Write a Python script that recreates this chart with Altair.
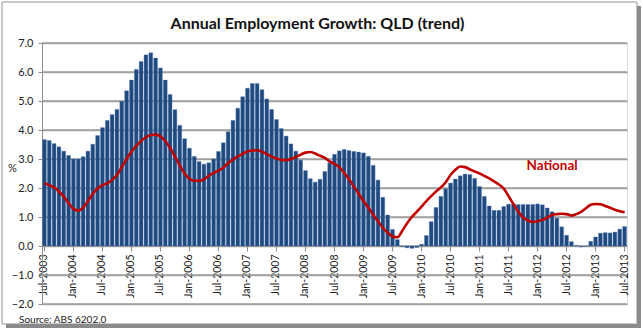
import altair as alt
import pandas as pd

MONTHS = ["Jan", "Feb", "Mar", "Apr", "May", "Jun", "Jul", "Aug", "Sep", "Oct", "Nov", "Dec"]
# Monthly categories Jul-2003 .. Jul-2013
months = []
for y in range(2003, 2014):
    for m in range(12):
        if (y == 2003 and m < 6) or (y == 2013 and m > 6):
            continue
        months.append(f"{MONTHS[m]}-{y}")

qld = [
    3.67, 3.64, 3.53, 3.42, 3.27, 3.12, 3.00, 3.00, 3.08, 3.27, 3.51, 3.81,
    4.08, 4.33, 4.53, 4.71, 4.99, 5.35, 5.72, 6.09, 6.36, 6.59, 6.66, 6.48,
    6.14, 5.72, 5.22, 4.70, 4.16, 3.70, 3.37, 3.09, 2.91, 2.82, 2.87, 3.00,
    3.26, 3.56, 3.94, 4.33, 4.75, 5.15, 5.44, 5.60, 5.60, 5.39, 5.07, 4.71,
    4.36, 4.05, 3.79, 3.52, 3.27, 2.96, 2.60, 2.32, 2.20, 2.30, 2.57, 2.87,
    3.16, 3.28, 3.33, 3.29, 3.26, 3.24, 3.21, 3.09, 2.78, 2.27, 1.68, 1.07,
    0.57, 0.22, -0.02, -0.06, -0.08, -0.05, 0.06, 0.36, 0.84, 1.33, 1.71, 1.97,
    2.17, 2.31, 2.42, 2.48, 2.46, 2.33, 2.05, 1.71, 1.38, 1.23, 1.23, 1.36,
    1.44, 1.45, 1.43, 1.43, 1.43, 1.43, 1.45, 1.42, 1.31, 1.18, 0.96, 0.66,
    0.37, 0.15, 0.02, -0.03, -0.01, 0.16, 0.31, 0.44, 0.46, 0.45, 0.48, 0.58,
    0.67,
]

national = [
    2.17, 2.10, 2.02, 1.88, 1.70, 1.48, 1.28, 1.22, 1.32, 1.55, 1.80, 1.98,
    2.10, 2.16, 2.28, 2.45, 2.72, 3.00, 3.25, 3.45, 3.62, 3.75, 3.83, 3.84,
    3.78, 3.62, 3.38, 3.08, 2.78, 2.50, 2.32, 2.25, 2.25, 2.30, 2.42, 2.52,
    2.60, 2.70, 2.86, 2.98, 3.09, 3.18, 3.26, 3.29, 3.30, 3.25, 3.17, 3.08,
    3.02, 2.97, 2.96, 3.00, 3.07, 3.15, 3.22, 3.24, 3.19, 3.11, 3.04, 2.92,
    2.83, 2.72, 2.52, 2.30, 2.05, 1.80, 1.55, 1.32, 1.08, 0.85, 0.63, 0.46,
    0.33, 0.30, 0.52, 0.78, 1.00, 1.18, 1.36, 1.55, 1.72, 1.88, 2.02, 2.20,
    2.45, 2.63, 2.74, 2.72, 2.64, 2.57, 2.50, 2.42, 2.33, 2.23, 2.12, 1.98,
    1.72, 1.45, 1.18, 0.98, 0.88, 0.83, 0.85, 0.90, 0.98, 1.07, 1.10, 1.11,
    1.10, 1.05, 1.10, 1.18, 1.30, 1.42, 1.45, 1.44, 1.38, 1.32, 1.25, 1.20,
    1.16,
]

tick_labels = months[::6]
y_ticks = [-2, -1, 0, 1, 2, 3, 4, 5, 6, 7]

annot_text = ["National"]
annot_month = ["Apr-2012"]
annot_value = [2.75]

source_text = "Source: ABS 6202.0"
title_text = "Annual Employment Growth: QLD (trend)"

W, H = 585, 261
FONT = "Lato"
GRID = "#a0a0a0"

df = pd.DataFrame({"month": months, "qld": qld, "national": national})
ann = pd.DataFrame({"label": annot_text, "month": annot_month, "v": annot_value})
grid_df = pd.DataFrame({"g": y_ticks})

xscale = alt.Scale(domain=months, paddingInner=0.22, paddingOuter=0.11)
yscale = alt.Scale(domain=[-2, 7], nice=False, zero=False)

x_axis = alt.Axis(
    values=tick_labels,
    title=None,
    labelAngle=270,
    labelFont=FONT,
    labelFontSize=10.5,
    labelColor="#222222",
    labelPadding=3,
    labelOverlap=False,
    labelFlush=False,
    offset=-(2 / 9) * H,
    domainColor="#8c8c8c",
    domainWidth=1,
    tickColor="#8c8c8c",
    tickSize=5,
    grid=False,
)

y_axis = alt.Axis(
    values=y_ticks,
    tickCount=10,
    format=".1f",
    title="%",
    titleAngle=0,
    titleFont=FONT,
    titleFontSize=11,
    titleFontWeight="normal",
    titleColor="#222222",
    titleX=-30,
    titleY=125,
    titleAlign="center",
    titleBaseline="middle",
    labelFont=FONT,
    labelFontSize=11,
    labelColor="#222222",
    labelPadding=5,
    labelOverlap=False,
    labelFlush=False,
    domainColor="#8c8c8c",
    tickColor="#8c8c8c",
    tickSize=4,
    grid=True,
    gridColor=GRID,
    gridWidth=1.5,
    gridOpacity=1,
)

x_enc = alt.X("month:N", sort=months, scale=xscale, axis=x_axis)

base = alt.Chart(df)

# horizontal gridlines at each y tick (full width rules)
grid = alt.Chart(grid_df).mark_rule(color=GRID, strokeWidth=1.5, opacity=1).encode(
    y=alt.Y("g:Q", scale=yscale, axis=y_axis),
)

# outer frame with a drop shadow on the right and bottom
shadow_r = base.mark_rect(fill="#8a8a8a").encode(
    x=alt.value(W + 10), x2=alt.value(W + 14), y=alt.value(-37), y2=alt.value(H + 24)
)
shadow_b = base.mark_rect(fill="#8a8a8a").encode(
    x=alt.value(-36), x2=alt.value(W + 14), y=alt.value(H + 20), y2=alt.value(H + 24)
)
frame = base.mark_rect(fillOpacity=0, stroke="#c8c8c8", strokeWidth=1).encode(
    x=alt.value(-40), x2=alt.value(W + 10), y=alt.value(-41), y2=alt.value(H + 20)
)

bars = base.mark_bar(color="#1f4a80", stroke="#4f74a8", strokeWidth=0.4).encode(
    x=x_enc,
    y=alt.Y("qld:Q", scale=yscale, axis=y_axis),
)

line = base.mark_line(color="#c00000", strokeWidth=2.6, interpolate="monotone").encode(
    x=x_enc,
    y=alt.Y("national:Q", scale=yscale, axis=y_axis),
)

label = alt.Chart(ann).mark_text(
    color="#c00000", font=FONT, fontSize=13.5, fontWeight="bold", align="center", baseline="middle"
).encode(
    x=x_enc,
    y=alt.Y("v:Q", scale=yscale, axis=y_axis),
    text="label:N",
)

source = alt.Chart(pd.DataFrame({"t": [source_text]})).mark_text(
    font=FONT, fontSize=10, color="#222222", align="left", baseline="middle"
).encode(x=alt.value(-23), y=alt.value(H + 16), text="t:N")

chart = (
    alt.layer(grid, bars, line, label, source, frame, shadow_r, shadow_b)
    .properties(
        width=W,
        height=H,
        title=alt.TitleParams(
            title_text, font=FONT, fontSize=16, fontWeight="bold", color="#111111",
            anchor="middle", frame="group", baseline="alphabetic", dx=-17, offset=0, dy=43,
        ),
        autosize=alt.AutoSizeParams(type="none"),
        padding={"left": 42, "top": 43, "right": 16, "bottom": 28},
    )
    .configure_view(stroke=None)
    .configure(background="white")
)

chart.save("out.html", embed_options={"renderer": "svg", "actions": False})
